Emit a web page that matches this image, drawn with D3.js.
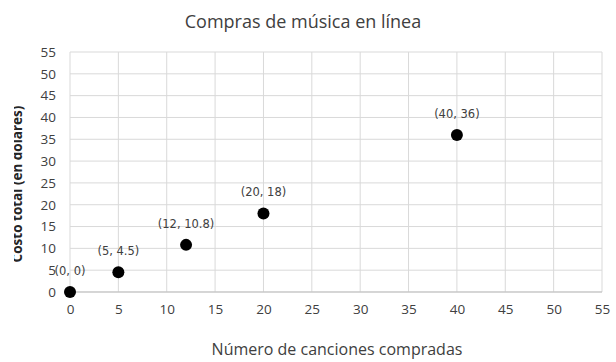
<!DOCTYPE html>
<html><head><meta charset="utf-8">
<script src="https://cdn.jsdelivr.net/npm/d3@7"></script>
<style>body{margin:0;background:#fff}svg{display:block}</style>
</head><body><svg id="c" width="616" height="362"></svg>
<script>
const xs = [0, 5, 12, 20, 40];
const ys = [0, 4.5, 10.8, 18, 36];
const pointLabels = ["(0, 0)", "(5, 4.5)", "(12, 10.8)", "(20, 18)", "(40, 36)"];
const tickValues = [0,5,10,15,20,25,30,35,40,45,50,55];
const title = "Compras de música en línea";
const xTitle = "Número de canciones compradas";
const yTitle = "Costo total (en dólares)";

const svg = d3.select("#c");
const x = d3.scaleLinear().domain([0,55]).range([70,602]);
const y = d3.scaleLinear().domain([0,55]).range([292,52]);

// gridlines
svg.append("g").selectAll("line.v").data(tickValues).join("line")
  .attr("x1",d=>x(d)).attr("x2",d=>x(d)).attr("y1",y(55)).attr("y2",y(0))
  .attr("stroke","#d9d9d9").attr("stroke-width",1);
svg.append("g").selectAll("line.h").data(tickValues).join("line")
  .attr("x1",x(0)).attr("x2",x(55)).attr("y1",d=>y(d)).attr("y2",d=>y(d))
  .attr("stroke","#d9d9d9").attr("stroke-width",1);
svg.append("line").attr("x1",x(0)).attr("x2",x(55)).attr("y1",y(0)).attr("y2",y(0))
  .attr("stroke","#bfbfbf");

const tickFont = "'Open Sans', sans-serif";
// axes
const xAxis = svg.append("g").attr("transform",`translate(0,${y(0)})`)
  .call(d3.axisBottom(x).tickValues(tickValues).tickSize(0).tickPadding(12));
const yAxis = svg.append("g").attr("transform",`translate(${x(0)},0)`)
  .call(d3.axisLeft(y).tickValues(tickValues).tickSize(0).tickPadding(14));
[xAxis,yAxis].forEach(a=>{
  a.select(".domain").remove();
  a.selectAll("text").attr("fill","#404040").style("font-family",tickFont).style("font-size","13.5px");
});

// points
const pts = xs.map((v,i)=>({x:v,y:ys[i],l:pointLabels[i]}));
svg.append("g").selectAll("circle").data(pts).join("circle")
  .attr("cx",d=>x(d.x)).attr("cy",d=>y(d.y)).attr("r",6).attr("fill","#000");
svg.append("g").selectAll("text").data(pts).join("text")
  .attr("x",d=>x(d.x)).attr("y",d=>y(d.y)-17).attr("text-anchor","middle")
  .attr("fill","#404040").style("font-family","'DejaVu Sans', sans-serif").style("font-size","11.5px")
  .text(d=>d.l);

// titles
svg.append("text").attr("x",303).attr("y",28).attr("text-anchor","middle")
  .attr("fill","#404040").style("font-family",tickFont).style("font-size","18px").text(title);
svg.append("text").attr("x",337).attr("y",355).attr("text-anchor","middle")
  .attr("fill","#404040").style("font-family",tickFont).style("font-size","16px").text(xTitle);
svg.append("defs").append("clipPath").attr("id","yc").append("rect")
  .attr("x",14).attr("y",0).attr("width",100).attr("height",362);
svg.append("g").attr("clip-path","url(#yc)").append("text")
  .attr("transform","translate(22,184) rotate(-90)").attr("text-anchor","middle")
  .attr("fill","#262626").style("font-family",tickFont).style("font-size","13.5px").style("font-weight","bold")
  .text(yTitle);
</script></body></html>
